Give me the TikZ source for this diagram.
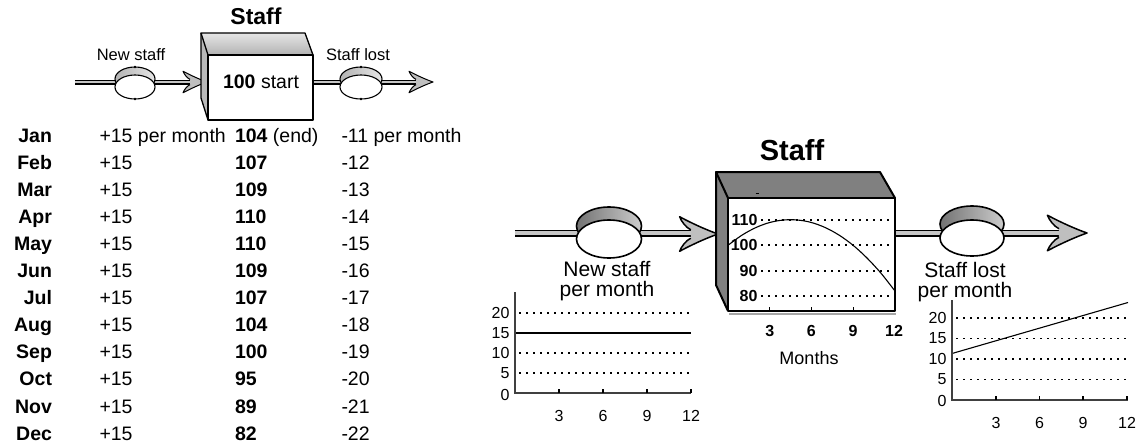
\documentclass[tikz,border=0pt]{standalone}
\usepackage{fontspec}
\setmainfont{Liberation Sans}
\usetikzlibrary{shapes.geometric}
\tikzset{
  flowhead/.pic={
    \fill[gray!50] (-17,-2.6) .. controls (-20,-4) and (-23,-8) .. (-24,-10.8)
      .. controls (-15,-6) and (-7,-2.5) .. (0,0)
      .. controls (-7,2.5) and (-15,6) .. (-24,10.8)
      .. controls (-23,8) and (-20,4) .. (-17,2.6) -- cycle;
    \draw[arrowline] (-17,-2.6) .. controls (-20,-4) and (-23,-8) .. (-24,-10.8)
      .. controls (-15,-6) and (-7,-2.5) .. (0,0)
      .. controls (-7,2.5) and (-15,6) .. (-24,10.8)
      .. controls (-23,8) and (-20,4) .. (-17,2.6);
  },
  arrowline/.style={draw=black,line width=1pt,line join=round}
}
\begin{document}
\begin{tikzpicture}[x=1pt,y=-1pt,
  every node/.style={inner sep=0pt,outer sep=0pt},
  tb/.style={font=\fontsize{19.5}{22}\selectfont,anchor=base west},
  tbm/.style={font=\fontsize{19.5}{22}\selectfont\bfseries,anchor=base east},
  pipeS/.style={draw=black,line width=1.2pt,double=gray!45,double distance=2.6pt},
  pipeL/.style={draw=black,line width=1.6pt,double=gray!45,double distance=3.8pt},
  valveS/.style={ellipse,draw=black,line width=1.1pt,fill=white},
  capS/.style={ellipse,draw=black,line width=1.1pt,left color=gray!60,right color=gray!20},
  valveL/.style={ellipse,draw=black,line width=1.6pt,fill=white},
  capL/.style={ellipse,draw=black,line width=1.6pt,left color=gray!90!black,right color=gray!40},
  edgeS/.style={draw=black,line width=1.3pt,line join=round},
  edgeL/.style={draw=black,line width=2pt,line join=round},
  dots/.style={line width=1.9pt,dash pattern=on 1.9pt off 5.1pt},
  axisln/.style={line width=1.8pt,draw=black!75},
  axlab/.style={font=\fontsize{16}{18}\selectfont},
  boxlab/.style={font=\fontsize{16}{18}\selectfont\bfseries},
  flowlab/.style={font=\fontsize{21}{20.5}\selectfont,align=center},
  smalllab/.style={font=\fontsize{16.5}{18}\selectfont},
]
\useasboundingbox (0,0) rectangle (1136,445);

%================ top-left stock and flows =================
\node[font=\fontsize{23}{25}\selectfont\bfseries] (t1) at (256,16.5) {Staff};
\node[smalllab] (nl1) at (131,55) {New staff};
\node[smalllab] (sl1) at (358,55) {Staff lost};

\coordinate (s1) at (75,82);
\coordinate (e1) at (192,82);
\coordinate (s2) at (312,82);
\coordinate (e2) at (418,82);
\draw[pipeS] (s1) -- (e1);
\draw[pipeS] (s2) -- (e2);
\node[capS,minimum width=40pt,minimum height=24pt] (v1cap) at (135,79) {};
\node[valveS,minimum width=40pt,minimum height=24pt] (v1) at (135,87) {};
\node[capS,minimum width=42pt,minimum height=24pt] (v2cap) at (361,79) {};
\node[valveS,minimum width=42pt,minimum height=24pt] (v2) at (361,87) {};
\foreach \v in {v1,v2}{
  \fill (\v cap.north) circle (1.3pt);
  \fill (\v.south) circle (1.3pt);
}
\pic at (207,82) {flowhead};
\pic at (433,82) {flowhead};

% box
\fill[gray!55] (201,33) -- (208,55) -- (208,120) -- (201,98) -- cycle;
\shade[top color=gray!20,bottom color=gray!60] (201,33) -- (305,33) -- (313,55) -- (208,55) -- cycle;
\draw[edgeS] (201,33) -- (305,33) -- (313,55) -- (208,55) -- cycle;
\draw[edgeS] (201,33) -- (201,98) -- (208,120);
\draw[edgeS,fill=white] (208,55) rectangle (313,120);
\node[font=\fontsize{19.5}{22}\selectfont] (st0) at (261,82) {\textbf{100} start};

%================ table =================
\foreach \mo/\inn/\stk/\outf [count=\i from 0] in {
  Jan/{+15 per month}/{\textbf{104} (end)}/{-11 per month},
  Feb/{+15}/{\textbf{107}}/{-12},
  Mar/{+15}/{\textbf{109}}/{-13},
  Apr/{+15}/{\textbf{110}}/{-14},
  May/{+15}/{\textbf{110}}/{-15},
  Jun/{+15}/{\textbf{109}}/{-16},
  Jul/{+15}/{\textbf{107}}/{-17},
  Aug/{+15}/{\textbf{104}}/{-18},
  Sep/{+15}/{\textbf{100}}/{-19},
  Oct/{+15}/{\textbf{95}}/{-20},
  Nov/{+15}/{\textbf{89}}/{-21},
  Dec/{+15}/{\textbf{82}}/{-22}}{
  \pgfmathsetmacro\yy{142.5+27.05*\i}
  \node[tbm] (mo\i) at (52,\yy) {\mo};
  \node[tb] (in\i) at (99.5,\yy) {\inn};
  \node[tb] (sk\i) at (235,\yy) {\stk};
  \node[tb] (ou\i) at (341.5,\yy) {\outf};
}

%================ right stock and flows =================
\node[font=\fontsize{29}{31}\selectfont\bfseries] (t2) at (792,150) {Staff};

\coordinate (s3) at (515,233);
\coordinate (e3) at (694,233);
\coordinate (s4) at (894,233);
\coordinate (e4) at (1062,233);
\draw[pipeL] (s3) -- (e3);
\draw[pipeL] (s4) -- (e4);
\node[capL,minimum width=65pt,minimum height=38pt] (v3cap) at (609,226) {};
\node[valveL,minimum width=65pt,minimum height=38pt] (v3) at (609,239) {};
\node[capL,minimum width=64pt,minimum height=36pt] (v4cap) at (972,224) {};
\node[valveL,minimum width=64pt,minimum height=36pt] (v4) at (972,238) {};
\pic[scale=1.6,arrowline/.style={draw=black,line width=1.5pt,line join=round}] at (718,234) {flowhead};
\pic[scale=1.65,arrowline/.style={draw=black,line width=1.5pt,line join=round}] at (1087,233) {flowhead};

\node[flowlab,anchor=north] (nl2) at (607,261) {New staff\\per month};
\node[flowlab,anchor=north] (sl2) at (965,262) {Staff lost\\per month};

% box
\fill[gray] (716,172) -- (728,198) -- (728,311) -- (716,285) -- cycle;
\fill[gray] (716,172) -- (880,172) -- (895,198) -- (728,198) -- cycle;
\draw[edgeL] (716,172) -- (880,172) -- (895,198) -- (728,198) -- cycle;
\draw[edgeL] (716,172) -- (716,285) -- (728,311);
\draw[gray!70,line width=2pt] (729,313.5) -- (896,313.5);
\draw[edgeL,fill=white] (728,198) rectangle (895,311);
\draw[line width=1pt] (755.5,193) -- (758.5,193);
% chart in box
\foreach \v/\yv in {110/220,100/245.3,90/270.6,80/295.9}{
  \node[boxlab,anchor=east] (bl\v) at (757.5,\yv) {\v};
  \draw[dots] (761,\yv) -- (894,\yv);
}
\draw[line width=1.1pt] plot[smooth,tension=0.55] coordinates {
  (728,245.3) (741.9,235.2) (755.8,227.6) (769.7,222.5) (783.6,220) (797.5,220)
  (811.4,222.5) (825.3,227.6) (839.2,235.2) (853.1,245.3) (867,258) (880.9,273.1) (894.8,290.8)};
\foreach \m/\xm in {3/769.7,6/811.4,9/853.1,12/894}{
  \node[boxlab] (bx\m) at (\xm,331) {\m};
}
\foreach \xm in {769.7,811.4,853.1}{
  \draw[line width=1.2pt] (\xm,311) -- (\xm,306.5);
}
\node[font=\fontsize{18}{20}\selectfont] (months) at (809,358) {Months};

%================ small chart: new staff =================
\foreach \v/\yv in {20/313,10/353,5/373}{
  \draw[dots] (519,\yv) -- (691,\yv);
}
\draw[line width=1.3pt] (515,333) -- (691,333);
\draw[axisln] (515,292) -- (515,393) -- (691,393);
\foreach \v/\yv in {20/313,15/333,10/353,5/373,0/395}{
  \node[axlab,anchor=east] (la\v) at (509.5,\yv) {\v};
}
\foreach \m/\xm in {3/559,6/603,9/647,12/691}{
  \draw[line width=1.2pt] (\xm,393) -- (\xm,389);
  \node[axlab] (lx\m) at (\xm,416) {\m};
}

%================ small chart: staff lost =================
\foreach \v/\yv in {20/318,15/338.5,10/359,5/379.5}{
  \draw[dots] (956,\yv) -- (1128,\yv);
}
\draw[line width=1.1pt] (952,353.5) -- (1128,302.5);
\draw[axisln] (952,300) -- (952,400) -- (1128,400);
\foreach \v/\yv in {20/318,15/338.5,10/359,5/379.5,0/401}{
  \node[axlab,anchor=east] (ra\v) at (946.5,\yv) {\v};
}
\foreach \m/\xm in {3/996,6/1039.5,9/1083,12/1127}{
  \draw[line width=1.2pt] (\xm,400) -- (\xm,396);
  \node[axlab] (rx\m) at (\xm,423) {\m};
}
\end{tikzpicture}
\end{document}
